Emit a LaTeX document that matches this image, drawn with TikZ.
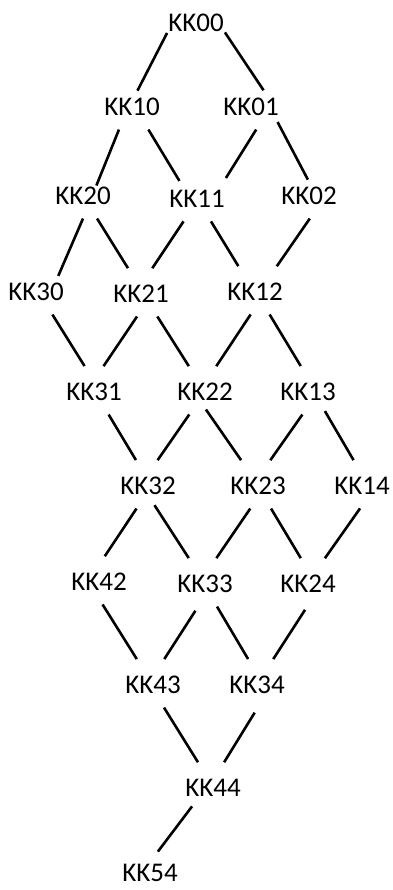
\documentclass[tikz,border=0pt]{standalone}
\usepackage{fontspec}
\setmainfont{Carlito}
\usepackage{tikz}
\usetikzlibrary{positioning}
\tikzset{
  kk/.style ={rectangle, inner xsep=1pt, inner ysep=13.5pt, font=\fontsize{27}{32}\selectfont},
  ln/.style ={line width=2.6pt, draw=black, shorten >=4pt},
}

\begin{document}
\begin{tikzpicture}[x=1pt, y=-1pt]
  \useasboundingbox (0,0) rectangle (392,890);
  % lattice levels, top to bottom
  \node[kk] (KK00) at (196,23) {KK00};
  \node[kk] (KK10) at (132,107) {KK10};
  \node[kk] (KK01) at (251,107) {KK01};
  \node[kk] (KK20) at (83,196) {KK20};
  \node[kk] (KK11) at (197,199) {KK11};
  \node[kk] (KK02) at (309,196) {KK02};
  \node[kk] (KK30) at (36,292) {KK30};
  \node[kk] (KK21) at (141,294) {KK21};
  \node[kk] (KK12) at (255,292) {KK12};
  \node[kk] (KK31) at (94,392) {KK31};
  \node[kk] (KK22) at (205,392) {KK22};
  \node[kk] (KK13) at (308,392) {KK13};
  \node[kk] (KK32) at (148,486) {KK32};
  \node[kk] (KK23) at (258,486) {KK23};
  \node[kk] (KK14) at (362,486) {KK14};
  \node[kk] (KK42) at (99,582) {KK42};
  \node[kk] (KK33) at (205,584) {KK33};
  \node[kk] (KK24) at (308,584) {KK24};
  \node[kk] (KK43) at (153,685) {KK43};
  \node[kk] (KK34) at (257,685) {KK34};
  \node[kk] (KK44) at (213,788) {KK44};
  \node[kk, inner ysep=2pt] (KK54) at (150,873) {KK54};
  % links between levels
  \draw[ln, shorten >=-7pt] (KK00.-161)--(KK10.69);
  \draw[ln, shorten >=-7pt] (KK00.-18)--(KK01.69);
  \draw[ln, shorten >=-13pt] (KK10.-120)--(KK20.51);
  \draw[ln, shorten >=-5pt] (KK10.-54)--(KK11.132);
  \draw[ln, shorten >=0pt] (KK01.-77)--(KK11.36);
  \draw[ln, shorten <=-5pt, shorten >=-7pt] (KK01.-34)--(KK02.101);
  \draw[ln, shorten >=-7pt] (KK20.-90)--(KK30.42);
  \draw[ln] (KK20.-58)--(KK21.116);
  \draw[ln] (KK11.-121)--(KK21.68);
  \draw[ln] (KK11.-58)--(KK12.123);
  \draw[ln] (KK02.-88)--(KK12.49);
  \draw[ln] (KK30.-54)--(KK31.108);
  \draw[ln] (KK21.-100)--(KK31.72);
  \draw[ln] (KK21.-54)--(KK22.122);
  \draw[ln] (KK12.-101)--(KK22.68);
  \draw[ln] (KK12.-57)--(KK13.103);
  \draw[ln] (KK31.-57)--(KK32.114);
  \draw[ln] (KK22.-125)--(KK32.72);
  \draw[ln, shorten <=-6pt] (KK22.-79)--(KK23.123);
  \draw[ln] (KK13.-104)--(KK23.66);
  \draw[ln, shorten <=-4pt] (KK13.-50)--(KK14.106);
  \draw[ln] (KK32.-117)--(KK42.81);
  \draw[ln, shorten <=-4pt] (KK32.-69)--(KK33.122);
  \draw[ln] (KK23.-109)--(KK33.68);
  \draw[ln] (KK23.-60)--(KK24.103);
  \draw[ln] (KK14.-95)--(KK24.57);
  \draw[ln] (KK42.-81)--(KK43.122);
  \draw[ln, shorten <=5pt] (KK33.-107)--(KK43.68);
  \draw[ln] (KK33.-62)--(KK34.107);
  \draw[ln, shorten <=4pt] (KK24.-92)--(KK34.58);
  \draw[ln] (KK43.-64)--(KK44.120);
  \draw[ln, shorten <=6pt] (KK34.-88)--(KK44.68);
  \draw[ln, shorten <=-5pt, shorten >=13pt] (KK44.-137)--(KK54.north);
\end{tikzpicture}
\end{document}
